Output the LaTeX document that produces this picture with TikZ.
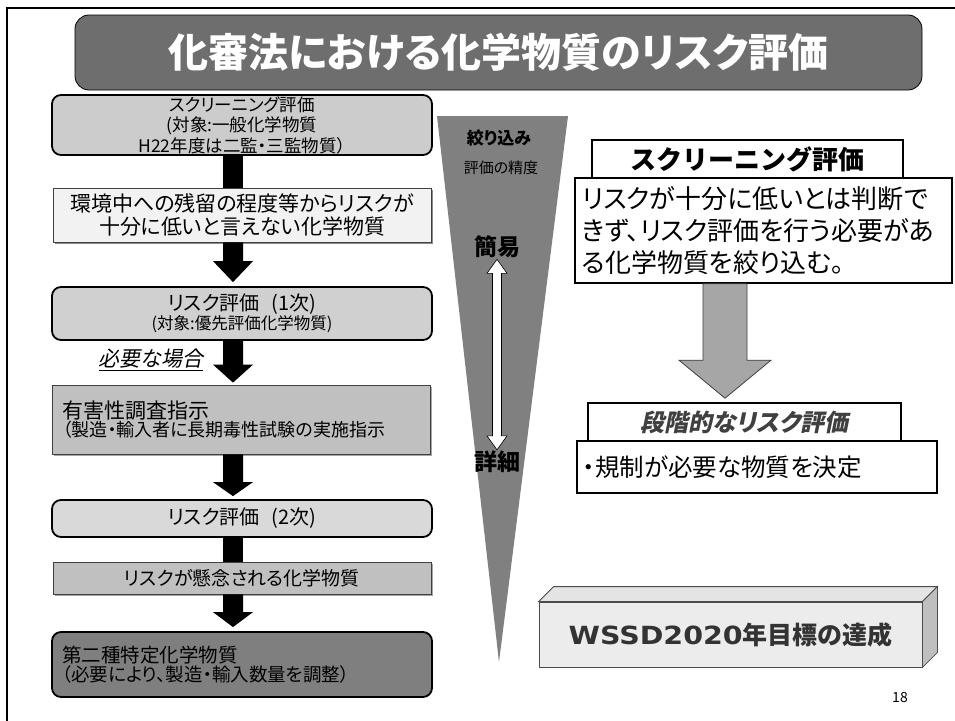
\documentclass[tikz,border=0pt]{standalone}
\usepackage{fontspec}
\setmainfont{Noto Sans CJK JP}[RawFeature=+palt]
\newfontfamily\jpfull{Noto Sans CJK JP}
\newfontfamily\jpit{Noto Sans CJK JP}[FakeSlant=0.2,RawFeature=+palt]
\newfontfamily\latwide{DejaVu Sans}
\usetikzlibrary{calc,shadows}
\newcommand\fs[2]{\fontsize{#1}{#2}\selectfont}
\definecolor{cA}{HTML}{CCCCCC}
\definecolor{cB}{HTML}{F2F2F2}
\definecolor{cC}{HTML}{D0D0D0}
\definecolor{cD}{HTML}{C0C0C0}
\definecolor{cE}{HTML}{D9D9D9}
\definecolor{cF}{HTML}{7F7F7F}
\definecolor{ctitle}{HTML}{6E6E6E}
\definecolor{cfun}{HTML}{808080}
\definecolor{cgarrow}{HTML}{A6A6A6}
\definecolor{cwf}{HTML}{ECECEC}
\definecolor{cwt}{HTML}{E4E4E4}
\definecolor{cws}{HTML}{BFBFBF}
\definecolor{cdark}{HTML}{333333}
% block arrow: from, to, head length, gap at tip
\newcommand\barrow[4]{%
  \fill let \p1=(#1), \p2=(#2) in
    (\x1-10pt,\y1) -- (\x1+10pt,\y1) -- (\x1+10pt,\y2+#4pt+#3pt) -- (\x1+20pt,\y2+#4pt+#3pt)
    -- (\x1,\y2+#4pt) -- (\x1-20pt,\y2+#4pt+#3pt) -- (\x1-10pt,\y2+#4pt+#3pt) -- cycle;}
\newcommand\bshaft[2]{%
  \fill let \p1=(#1), \p2=(#2) in (\x1-10pt,\y1) rectangle (\x1+10pt,\y2);}
\begin{document}
\begin{tikzpicture}[x=1pt,y=-1pt,
  rbox/.style={draw=black, line width=1.8pt, rounded corners=9pt, inner sep=0pt},
  sbox/.style={draw=black!75, line width=0.8pt, inner sep=0pt},
  wbox/.style={draw=black, line width=1.6pt, fill=white, inner sep=0pt},
  ftxt/.style={inner sep=0pt}]
\useasboundingbox (0,0) rectangle (955,720);
% frame
\draw[line width=2pt] (7,721) -- (7,8) -- (956,8);
% title
\node[draw=black, line width=0.8pt, fill=ctitle, rounded corners=14pt,
      minimum width=847pt, minimum height=75pt, inner sep=0pt,
      text=white, font=\bfseries\fs{40}{44}] (title) at (498.5,52.5) {化審法における化学物質のリスク評価};
% funnel
\fill[cfun] (437,116) -- (568,116) -- (499,662) -- cycle;
% left flow boxes
\coordinate (ax) at (233,0);
\node[rbox, fill=cA, minimum width=380pt, minimum height=60pt, align=center,
      font=\fs{17.5}{20.5}] (b1) at (242,125) {スクリーニング評価\\(対象:一般化学物質\\H22年度は二監・三監物質）};
\node[sbox, fill=cB, minimum width=378pt, minimum height=54pt, align=center,
      drop shadow={shadow xshift=2pt, shadow yshift=-2pt, fill=black!45, opacity=1},
      font=\fs{21}{23}] (b2) at (242,215) {環境中への残留の程度等からリスクが\\十分に低いと言えない化学物質};
\node[rbox, fill=cC, minimum width=380pt, minimum height=53pt, align=center] (b3) at (242,313.5)
  {{\fs{20}{22}リスク評価\hspace{0.6em}(1次)}\\[0pt]{\fs{16.5}{18}(対象:優先評価化学物質)}};
\node[sbox, fill=cD, minimum width=378pt, minimum height=69pt, align=left, text width=358pt,
      inner xsep=10pt, drop shadow={shadow xshift=1.5pt, shadow yshift=-1.5pt, fill=black!35, opacity=1}] (b4) at (241.5,419.5)
  {{\fs{21}{24}有害性調査指示}\\{\fs{18}{22}（製造・輸入者に長期毒性試験の実施指示}};
\node[rbox, fill=cE, minimum width=380pt, minimum height=37pt, align=center,
      font=\fs{20}{22}] (b5) at (242,518.5) {リスク評価\hspace{0.6em}(2次)};
\node[sbox, fill=cD, minimum width=378pt, minimum height=32pt, align=center,
      drop shadow={shadow xshift=1.5pt, shadow yshift=-1.5pt, fill=black!35, opacity=1},
      font=\fs{19}{20}] (b6) at (242,578) {リスクが懸念される化学物質};
\node[rbox, fill=cF, minimum width=380pt, minimum height=65pt, align=left, text width=360pt,
      inner xsep=10pt] (b7) at (242,664.5)
  {{\fs{19.5}{26}第二種特定化学物質}\\{\fs{18.5}{22}（必要により、製造・輸入数量を調整）}};
% black arrows
\bshaft{b1.south -| ax}{b2.north -| ax}
\barrow{b2.south -| ax}{b3.north -| ax}{21}{4}
\barrow{b3.south -| ax}{b4.north -| ax}{18}{2}
\barrow{b4.south -| ax}{b5.north -| ax}{14}{3}
\bshaft{b5.south -| ax}{b6.north -| ax}
\barrow{b6.south -| ax}{b7.north -| ax}{15}{4}
\node[ftxt, font=\jpit\fs{21}{22}] (need) at (151,360) {\underline{必要な場合}};
% funnel texts
\node[ftxt, font=\bfseries\fs{17}{19}] (shibori) at (499,138) {絞り込み};
\node[ftxt, font=\fs{15}{16}] (seido) at (501,168) {評価の精度};
\node[ftxt, font=\bfseries\fs{23}{25}] (kan) at (497,247) {簡易};
\node[ftxt, font=\bfseries\fs{23}{25}] (shou) at (497,462) {詳細};
\filldraw[fill=white, draw=black, line width=0.6pt] let \p1=(kan.south), \p2=(shou.north) in
  (\x1,\y1-1pt) -- (\x1+10pt,\y1-15pt) -- (\x1+4.5pt,\y1-15pt) -- (\x1+4.5pt,\y2+15pt)
  -- (\x1+10pt,\y2+15pt) -- (\x1,\y2+1pt) -- (\x1-10pt,\y2+15pt) -- (\x1-4.5pt,\y2+15pt)
  -- (\x1-4.5pt,\y1-15pt) -- (\x1-10pt,\y1-15pt) -- cycle;
% right side
\node[wbox, minimum width=377pt, minimum height=105pt, align=left, text width=363pt,
      inner xsep=7pt, font=\fs{26}{32}] (r1) at (763.5,230.5)
  {リスクが十分に低いとは判断で\\きず、リスク評価を行う必要があ\\る化学物質を絞り込む。};
\node[wbox, minimum width=311pt, minimum height=38pt, font=\jpfull\bfseries\fs{26}{27}] (r1h) at (747.5,159) {スクリーニング評価};
\node[wbox, minimum width=360pt, minimum height=52pt, align=left, text width=348pt,
      inner xsep=6pt, font=\fs{24.5}{26}] (r2) at (757,467) {・規制が必要な物質を決定};
\node[wbox, minimum width=313pt, minimum height=38pt, text=black!75,
      font=\jpit\bfseries\fs{24}{25}] (r2h) at (744.5,422) {段階的なリスク評価};
\coordinate (gx) at (725,0);
\filldraw[fill=cgarrow, draw=black!75, line width=0.8pt] let \p1=(r1.south -| gx), \p2=(r2h.north -| gx) in
  (\x1-22pt,\y1) -- (\x1+22pt,\y1) -- (\x1+22pt,\y2+42pt) -- (\x1+46pt,\y2+42pt)
  -- (\x1,\y2+4pt) -- (\x1-46pt,\y2+42pt) -- (\x1-22pt,\y2+42pt) -- cycle;
% WSSD 3D box
\node[draw=black!70, line width=0.8pt, fill=cwf, minimum width=383pt, minimum height=65pt, inner sep=0pt,
      text=cdark, font=\bfseries\fs{25}{28}] (w) at (730.5,634.5)
  {\scalebox{1.14}[1]{\latwide\bfseries WSSD2020}年目標の達成};
\filldraw[fill=cwt, draw=black!70, line width=0.8pt] (w.north west) -- ++(15,-15) -- ($(w.north east)+(15,-15)$) -- (w.north east) -- cycle;
\filldraw[fill=cws, draw=black!70, line width=0.8pt] (w.north east) -- ++(15,-15) -- ($(w.south east)+(15,-15)$) -- (w.south east) -- cycle;
\node[ftxt, font=\fs{14}{15}] (pg) at (900,697) {18};
\end{tikzpicture}
\end{document}
